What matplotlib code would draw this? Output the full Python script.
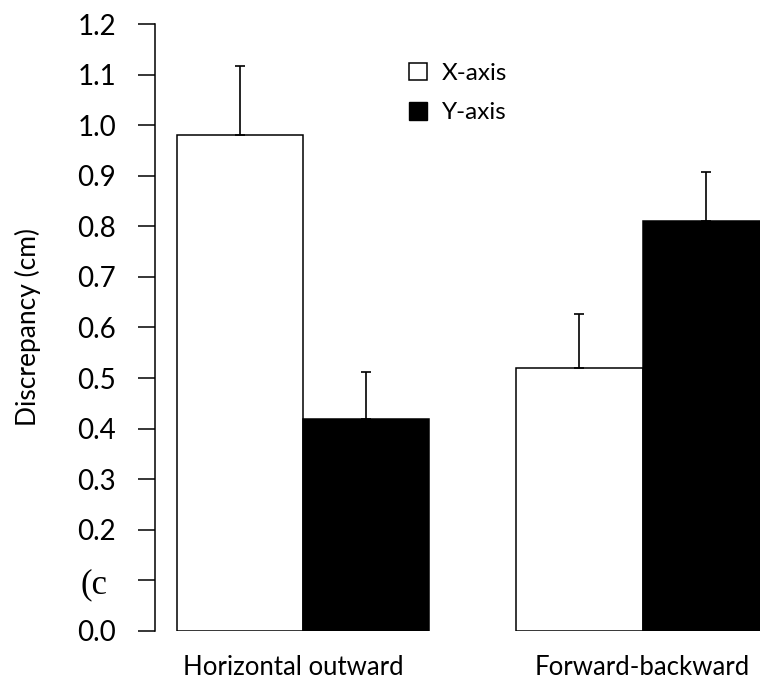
import matplotlib.pyplot as plt
from matplotlib.patches import Rectangle
import numpy as np

# data
groups = ['Horizontal outward', 'Forward-backward']
x_axis = [0.98, 0.52]
x_err = [0.137, 0.107]
y_axis = [0.42, 0.81]
y_err = [0.092, 0.097]
ytick_vals = [0.0, 0.1, 0.2, 0.3, 0.4, 0.5, 0.6, 0.7, 0.8, 0.9, 1.0, 1.1, 1.2]
ytick_labels = ['0.0', '(c', '0.2', '0.3', '0.4', '0.5', '0.6', '0.7', '0.8', '0.9', '1.0', '1.1', '1.2']

plt.rcParams['font.family'] = ['Lato', 'DejaVu Sans']

fig = plt.figure(figsize=(7.6, 6.84), dpi=100)
ax = fig.add_axes([0.204, 0.0775, 0.82, 0.8874])

pos = np.arange(len(groups))
w = 0.372
ekw = dict(elinewidth=1.2, capthick=1.2, ecolor='black')
ax.bar(pos - w / 2, x_axis, w, color='white', edgecolor='black', linewidth=1.1,
       yerr=[[0, 0], x_err], capsize=3.6, error_kw=ekw)
ax.bar(pos + w / 2, y_axis, w, color='black', edgecolor='black', linewidth=1.1,
       yerr=[[0, 0], y_err], capsize=3.6, error_kw=ekw)

ax.set_xlim(-0.437, 1.4)
ax.set_ylim(0, 1.2)
ax.set_yticks(ytick_vals)
ax.set_yticklabels(ytick_labels)
ax.tick_params(axis='y', length=12, width=1.1, labelsize=20, pad=16)
for lab in ax.get_yticklabels():
    if lab.get_text() == '(c':
        # stray serif label in the original, sits a bit further left
        lab.set_family('Liberation Serif')
        lab.set_fontsize(25)
        lab.set_horizontalalignment('left')
        lab.set_x(-0.1)
        lab.set_transform(ax.get_yaxis_transform())
        lab.set_position((-0.12, 0.1))

# first category label sits a little left of its group centre
ax.set_xticks(pos + np.array([-0.03, 0.0]))
ax.set_xticklabels(groups)
ax.tick_params(axis='x', length=0, labelsize=18.5, pad=17)

for s in ['top', 'right', 'bottom']:
    ax.spines[s].set_visible(False)
ax.spines['left'].set_linewidth(1.1)

ax.set_ylabel('Discrepancy (cm)', fontsize=19, labelpad=26)

handles = [Rectangle((0, 0), 1, 1, facecolor='white', edgecolor='black', linewidth=1.1),
           Rectangle((0, 0), 1, 1, facecolor='black', edgecolor='black')]
fig.legend(handles, ['X-axis', 'Y-axis'], loc='upper left',
           bbox_to_anchor=(0.51, 0.94), frameon=False, fontsize=17.5,
           handlelength=0.72, handleheight=0.72, handletextpad=0.6, labelspacing=0.75)

fig.savefig('out.png', dpi=100)
